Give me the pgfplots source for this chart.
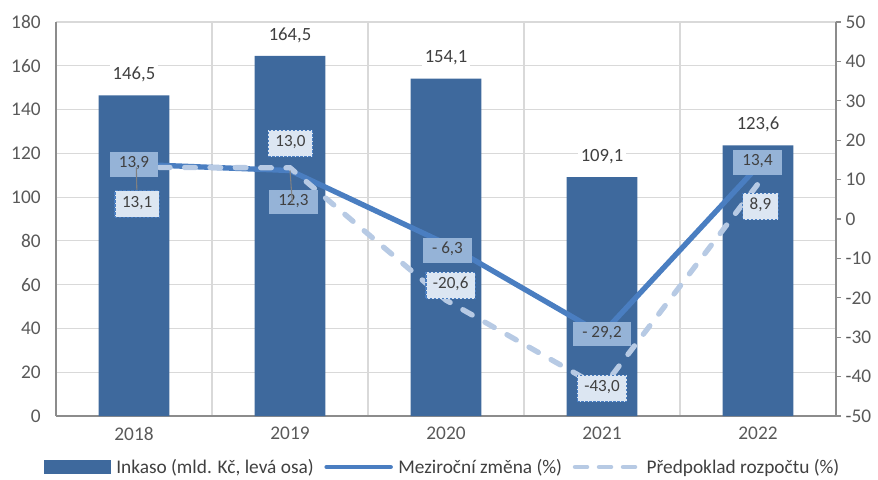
\documentclass[border=0pt]{standalone}
\usepackage{fontspec}
\setmainfont{Carlito}
\usepackage{pgfplots}
\pgfplotsset{compat=1.18}

\definecolor{barblue}{RGB}{62,105,157}
\definecolor{lineblue}{RGB}{74,126,193}
\definecolor{dashblue}{RGB}{183,202,228}
\definecolor{labdark}{RGB}{149,179,215}
\definecolor{lablight}{RGB}{220,230,242}
\definecolor{txt}{RGB}{64,64,64}
\definecolor{ticktxt}{RGB}{89,89,89}
\definecolor{gridgray}{RGB}{217,217,217}
\definecolor{axgray}{RGB}{140,140,140}

\pgfplotstableread{
x inkaso mezi predp
0 146.5 13.9 13.1
1 164.5 12.3 13.0
2 154.1 -6.3 -20.6
3 109.1 -29.2 -43.0
4 123.6 13.4 8.9
}\datatable

\newcommand{\fnt}{\fontsize{14.5}{17}\selectfont}
\newcommand{\lfnt}{\fontsize{12.8}{15}\selectfont}
\tikzset{
  dlab/.style={fill=labdark, text=txt, inner xsep=6.8pt, inner ysep=4.8pt,
    text height=0.7em, text depth=0.2em, font=\lfnt},
  llab/.style={fill=lablight, draw=lineblue, dash pattern=on 1.8pt off 1.2pt,
    line width=0.9pt, text=txt, inner xsep=5.2pt, inner ysep=5.4pt,
    text height=0.7em, text depth=0.2em, font=\lfnt},
}

\begin{document}
\begin{tikzpicture}[font=\fnt]
\pgfplotsset{
  common/.style={
    scale only axis, width=585pt, height=295.5pt,
    xmin=-0.5, xmax=4.5,
    /pgf/number format/assume math mode=true,
    tick label style={font=\fnt, text=ticktxt},
    axis line style={-, draw=axgray, line width=1.3pt},
  },
}
% bars, left axis
\begin{axis}[common,
  ymin=0, ymax=180, ytick={0,20,...,180},
  axis x line*=bottom, axis y line*=left,
  xtick={0,...,4}, xticklabels={2018,2019,2020,2021,2022},
  minor xtick={0.5,1.5,2.5,3.5}, xminorgrids, ymajorgrids,
  grid style={gridgray, line width=0.8pt},
  major tick length=0pt, minor tick length=0pt,
  yticklabel style={xshift=-8pt},
  xticklabel style={yshift=-5pt},
]
\addplot[ybar, bar width=0.455, fill=barblue, draw=none,
  nodes near coords={\pgfmathprintnumber[fixed,fixed zerofill,precision=1,use comma]{\pgfplotspointmeta}},
  every node near coord/.append style={anchor=center, yshift=15.75pt, fill=white,
    text=txt, inner sep=2pt, font=\fontsize{14}{16}\selectfont}]
  table[x=x, y=inkaso]{\datatable};
\end{axis}
% lines, right axis
\begin{axis}[common,
  ymin=-50, ymax=50, ytick={-50,-40,...,50},
  axis y line*=right, axis x line=none,
  tick align=outside, major tick length=3.75pt,
  ytick style={draw=axgray, line width=1pt},
  legend columns=3,
  legend style={at={(0.496,-0.1294)}, anchor=center, draw=none, fill=none,
    font=\fnt, text=txt,
    /tikz/every odd column/.append style={column sep=2pt},
    /tikz/every even column/.append style={column sep=6pt}},
  legend cell align=left,
]
\addlegendimage{legend image code/.code={\fill[barblue] (0pt,-5pt) rectangle (50pt,5pt);}}
\addlegendentry{Inkaso (mld. Kč, levá osa)}
\addplot[lineblue, line width=4pt, line join=round,
  legend image code/.code={\draw[lineblue, line width=3.4pt, line cap=round] (1pt,0pt) -- (49pt,0pt);}]
  table[x=x, y=mezi]{\datatable};
\addlegendentry{Meziroční změna (\%)}
\addplot[dashblue, line width=4pt, line cap=round, dash pattern=on 8pt off 11pt,
  legend image code/.code={\draw[dashblue, line width=3.4pt, line cap=round, dash pattern=on 9pt off 9pt] (2pt,0pt) -- (50pt,0pt);}]
  table[x=x, y=predp]{\datatable};
\addlegendentry{Předpoklad rozpočtu (\%)}

% data labels
\node[dlab] at (axis cs:0,13.9) {13,9};
\node[dlab] at (axis cs:1.022,4.3) {12,3};
\node[dlab] at (axis cs:2.01,-8.0) {- 6,3};
\node[dlab] at (axis cs:3,-29.2) {- 29,2};
\node[dlab] at (axis cs:3.997,14.3) {13,4};
\draw[gray, line width=0.8pt] (axis cs:0.015,13.1) -- (axis cs:0.02,3.8);
\draw[gray, line width=0.8pt] (axis cs:1,12.3) -- (axis cs:1.015,4.3);
\node[llab] at (axis cs:0.02,3.8) {13,1};
\node[llab] at (axis cs:1.003,19.2) {13,0};
\node[llab] at (axis cs:2.03,-16.9) {-20,6};
\node[llab] at (axis cs:3,-43.0) {-43,0};
\node[llab] at (axis cs:4.016,3.2) {8,9};
\end{axis}
\pgfresetboundingbox
\path (-42pt,-47.25pt) rectangle (616.5pt,312pt);
\end{tikzpicture}
\end{document}
